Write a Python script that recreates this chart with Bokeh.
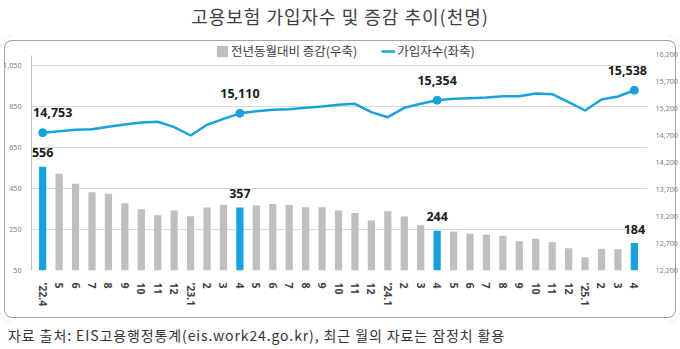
from bokeh.plotting import figure
from bokeh.layouts import column
from bokeh.models import (Range1d, LinearAxis, FixedTicker, NumeralTickFormatter,
                          Legend, LegendItem, ColumnDataSource, Div)
from bokeh.core.properties import value
from bokeh.embed import file_html
from bokeh.resources import INLINE

# ---- data ----
months = ["'22.4", "5", "6", "7", "8", "9", "10", "11", "12",
          "'23.1", "2", "3", "4", "5", "6", "7", "8", "9", "10", "11", "12",
          "'24.1", "2", "3", "4", "5", "6", "7", "8", "9", "10", "11", "12",
          "'25.1", "2", "3", "4"]
change = [556, 522, 473, 432, 424, 378, 349, 320, 343,
          315, 357, 370, 357, 367, 375, 370, 359, 359, 343, 331, 294,
          339, 313, 271, 244, 240, 229, 224, 219, 193, 205, 188, 159,
          115, 156, 154, 184]
subscribers = [14753, 14780, 14805, 14817, 14861, 14904, 14941, 14954, 14854,
               14700, 14898, 15009, 15110, 15150, 15176, 15187, 15213, 15237, 15268, 15287, 15132,
               15039, 15213, 15287, 15354, 15380, 15392, 15404, 15428, 15428, 15478, 15466, 15318,
               15163, 15367, 15422, 15538]
left_ticks = [50, 250, 450, 650, 850, 1050]
right_ticks = [12200, 12700, 13200, 13700, 14200, 14700, 15200, 15700, 16200]

title_text = "고용보험 가입자수 및 증감 추이(천명)"
bar_name = "전년동월대비 증감(우축)"
line_name = "가입자수(좌축)"
footer_text = "자료 출처: EIS고용행정통계(eis.work24.go.kr), 최근 월의 자료는 잠정치 활용"

# ---- derived ----
idx = list(range(len(months)))
hl = [i for i, m in enumerate(months) if m == "4" or m.endswith(".4")]
norm = [i for i in idx if i not in hl]

BLUE = "#17A2DD"
GRAY = "#BFBFBF"
KFONT = "Noto Sans CJK KR"

p = figure(width=680, height=286, output_backend="svg", toolbar_location=None,
           x_range=Range1d(-0.68, len(months) - 1 + 0.8),
           y_range=Range1d(50, 1162.2),
           min_border_left=31, min_border_right=26, min_border_top=6, min_border_bottom=52,
           background_fill_color="white", border_fill_alpha=0,
           styles={"background-color": "white", "border-radius": "12px",
                   "box-shadow": "inset 0 0 0 4px white, inset 0 0 0 5px #A6A6A6"},
           margin=0)
p.outline_line_color = None
p.extra_y_ranges = {"right": Range1d(12200, 16422.2)}

# axes
p.xaxis.ticker = FixedTicker(ticks=idx)
p.xaxis.major_label_overrides = {i: m for i, m in enumerate(months)}
p.xaxis.major_label_orientation = "vertical"
p.xaxis.major_label_text_font = "Noto Sans"
p.xaxis.major_label_text_font_size = "10.5px"
p.xaxis.major_label_text_font_style = "bold"
p.xaxis.major_label_text_color = "#404040"
p.xaxis.major_label_standoff = 6
p.xaxis.axis_line_color = None
p.xaxis.major_tick_line_color = None
p.xaxis.minor_tick_line_color = None

p.yaxis.ticker = FixedTicker(ticks=left_ticks)
p.yaxis.formatter = NumeralTickFormatter(format="0,0")
p.yaxis.bounds = (50, 1100)
p.yaxis.axis_line_color = "#BFBFBF"
p.yaxis.major_tick_line_color = None
p.yaxis.minor_tick_line_color = None
p.yaxis.major_label_text_font = "Noto Sans"
p.yaxis.major_label_text_font_size = "7.2px"
p.yaxis.major_label_text_color = "#808080"
p.yaxis.major_label_standoff = 4

ra = LinearAxis(y_range_name="right", ticker=FixedTicker(ticks=right_ticks),
                formatter=NumeralTickFormatter(format="0,0"))
ra.axis_line_color = None
ra.major_tick_line_color = None
ra.minor_tick_line_color = None
ra.major_label_text_font = "Noto Sans"
ra.major_label_text_font_size = "7.2px"
ra.major_label_text_color = "#808080"
ra.major_label_standoff = 2
p.add_layout(ra, "right")

p.xgrid.visible = False
p.ygrid.ticker = FixedTicker(ticks=left_ticks)
p.ygrid.grid_line_color = "#D9D9D9"
p.ygrid.grid_line_width = 1

# bars
src_n = ColumnDataSource(dict(x=[idx[i] for i in norm], top=[change[i] for i in norm]))
src_h = ColumnDataSource(dict(x=[idx[i] for i in hl], top=[change[i] for i in hl]))
bars_n = p.vbar(x="x", top="top", bottom=50, width=0.44, source=src_n,
                fill_color=GRAY, line_color=None)
bars_h = p.vbar(x="x", top="top", bottom=50, width=0.44, source=src_h,
                fill_color=BLUE, line_color=None)

# line
ln = p.line(idx, subscribers, y_range_name="right", line_color=BLUE, line_width=2.5)
p.scatter([idx[i] for i in hl], [subscribers[i] for i in hl], y_range_name="right",
          size=8, fill_color=BLUE, line_color=BLUE)

# data labels
n_hl = len(hl)
line_dx = [10 if k == 0 else (-7 if k == n_hl - 1 else 0) for k in range(n_hl)]
p.text([idx[i] for i in hl], [subscribers[i] for i in hl],
       text=[f"{subscribers[i]:,}" for i in hl], y_range_name="right",
       x_offset=line_dx, y_offset=-20, text_align="center", text_baseline="middle",
       text_font=value("Noto Sans"), text_font_style="bold", text_font_size="12.5px",
       text_color="#1A1A1A")
p.text([idx[i] for i in hl], [change[i] for i in hl],
       text=[f"{change[i]:,}" for i in hl],
       y_offset=-14, text_align="center", text_baseline="middle",
       text_font=value("Noto Sans"), text_font_style="bold", text_font_size="12.5px",
       text_color="#1A1A1A")

# legend
legend = Legend(items=[LegendItem(label=bar_name, renderers=[bars_n]),
                       LegendItem(label=line_name, renderers=[ln])],
                orientation="horizontal", location=(184, 210),
                label_text_font=KFONT, label_text_font_size="12.5px", label_text_color="#404040",
                glyph_width=14, glyph_height=14, label_height=14, label_standoff=2,
                spacing=24, padding=0, margin=0,
                border_line_color=None, background_fill_alpha=0)
p.add_layout(legend)

title_div = Div(text=title_text, width=680, height=36, margin=0,
                styles={"text-align": "center", "font-family": "'Noto Sans CJK KR'",
                        "font-size": "18px", "letter-spacing": "1px",
                        "color": "#404040", "line-height": "32px",
                        "white-space": "nowrap"})
footer_div = Div(text=footer_text, width=680, height=27, margin=0,
                 styles={"font-family": "'Noto Sans CJK KR'", "font-size": "14px",
                         "letter-spacing": "0.9px",
                         "color": "#333333", "line-height": "26px", "text-indent": "8px",
                         "white-space": "nowrap"})

layout = column(title_div, p, footer_div, spacing=0, margin=0)

open("out.html", "w").write(file_html(layout, INLINE))
